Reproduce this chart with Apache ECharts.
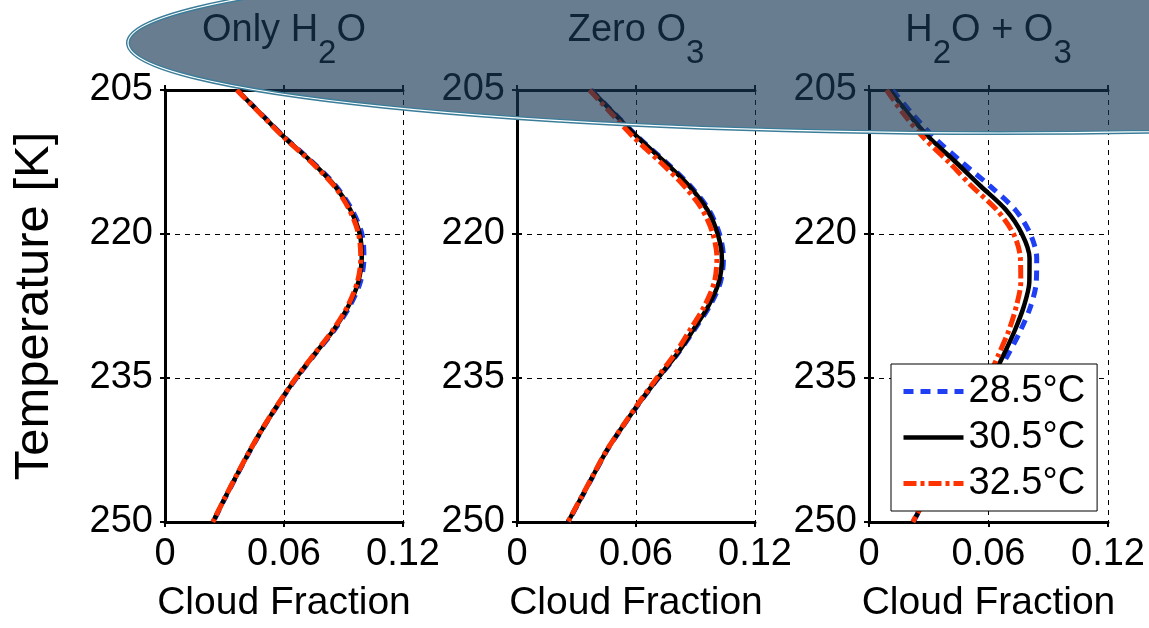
<!DOCTYPE html>
<html>
<head>
<meta charset="utf-8">
<script src="https://cdn.jsdelivr.net/npm/echarts@6/dist/echarts.min.js"></script>
<style>
  html, body { margin: 0; padding: 0; background: #ffffff; }
  #chart { width: 1149px; height: 628px; }
</style>
</head>
<body>
<div id="chart"></div>
<script>
// Temperature levels (K) at which cloud fraction is sampled
const temperatures = [205, 207.5, 210, 212.5, 215, 217.5, 220, 222.5, 225, 227.5,
                      230, 232.5, 235, 237.5, 240, 242.5, 245, 247.5, 250];

// Axis ticks
const xTicks = [0, 0.06, 0.12];
const yTicks = [205, 220, 235, 250];

// Sea-surface temperature runs
const runNames = ['28.5°C', '30.5°C', '32.5°C'];

// Panel 1: only H2O
const onlyH2O_285 = [0.0363, 0.0485, 0.0607, 0.0743, 0.0862, 0.0943, 0.0993, 0.1003, 0.0985, 0.0932,
                     0.0854, 0.0757, 0.0663, 0.0579, 0.0501, 0.0431, 0.0366, 0.0303, 0.0243];
const onlyH2O_305 = [0.0363, 0.0484, 0.0605, 0.0740, 0.0857, 0.0935, 0.0982, 0.0992, 0.0975, 0.0925,
                     0.0850, 0.0755, 0.0661, 0.0578, 0.0500, 0.0430, 0.0365, 0.0302, 0.0242];
const onlyH2O_325 = [0.0362, 0.0482, 0.0603, 0.0737, 0.0853, 0.0930, 0.0976, 0.0987, 0.0970, 0.0921,
                     0.0847, 0.0753, 0.0660, 0.0577, 0.0499, 0.0429, 0.0364, 0.0301, 0.0241];

// Panel 2: zero O3
const zeroO3_285 = [0.0374, 0.0494, 0.0615, 0.0750, 0.0874, 0.0968, 0.1021, 0.1041, 0.1026, 0.0972,
                    0.0893, 0.0809, 0.0713, 0.0621, 0.0535, 0.0455, 0.0389, 0.0324, 0.0258];
const zeroO3_305 = [0.0373, 0.0492, 0.0612, 0.0745, 0.0868, 0.0960, 0.1012, 0.1033, 0.1018, 0.0965,
                    0.0888, 0.0807, 0.0711, 0.0620, 0.0534, 0.0454, 0.0388, 0.0323, 0.0257];
const zeroO3_325 = [0.0365, 0.0478, 0.0592, 0.0722, 0.0843, 0.0935, 0.0988, 0.1008, 0.0995, 0.0945,
                    0.0872, 0.0796, 0.0705, 0.0617, 0.0533, 0.0453, 0.0387, 0.0322, 0.0256];

// Panel 3: H2O + O3
const bothGases_285 = [0.0118, 0.0218, 0.0330, 0.0465, 0.0607, 0.0735, 0.0810, 0.0842, 0.0840, 0.0812,
                       0.0762, 0.0700, 0.0632, 0.0560, 0.0491, 0.0419, 0.0352, 0.0287, 0.0222];
const bothGases_305 = [0.0105, 0.0198, 0.0305, 0.0435, 0.0560, 0.0688, 0.0768, 0.0806, 0.0805, 0.0778,
                       0.0733, 0.0678, 0.0618, 0.0552, 0.0487, 0.0417, 0.0351, 0.0286, 0.0221];
const bothGases_325 = [0.0088, 0.0174, 0.0276, 0.0400, 0.0515, 0.0642, 0.0726, 0.0760, 0.0762, 0.0740,
                       0.0703, 0.0652, 0.0598, 0.0540, 0.0480, 0.0413, 0.0349, 0.0285, 0.0220];

const panelTitles = ['{m|Only H}{s|2}{m|O}', '{m|Zero O}{s|3}', '{m|H}{s|2}{m|O + O}{s|3}'];
const panelData = [
  [onlyH2O_285, onlyH2O_305, onlyH2O_325],
  [zeroO3_285, zeroO3_305, zeroO3_325],
  [bothGases_285, bothGases_305, bothGases_325]
];

const FONT = '"Liberation Sans", Arial, Helvetica, sans-serif';
const panels = [
  { left: 165, width: 238 },
  { left: 517, width: 238 },
  { left: 869, width: 239 }
];
const GRID_TOP = 90, GRID_H = 432;

const runStyles = [
  { color: '#1f3ff5', width: 5, type: [10, 7] },
  { color: '#000000', width: 4.5, type: 'solid' },
  { color: '#ff3300', width: 5, type: [13, 4, 4, 4] }
];

const grids = [], xAxes = [], yAxes = [], series = [];
const xInt = xTicks[1] - xTicks[0];
const yInt = yTicks[1] - yTicks[0];

panels.forEach((p, i) => {
  grids.push({ left: p.left, top: GRID_TOP, width: p.width, height: GRID_H, containLabel: false });

  const xBase = {
    type: 'value', gridIndex: i,
    min: xTicks[0], max: xTicks[xTicks.length - 1], interval: xInt,
    axisLine: { show: true, lineStyle: { color: '#000', width: 3 } },
    axisTick: { show: true, inside: false, length: 5, lineStyle: { color: '#000', width: 2 } }
  };
  // bottom axis with labels and grid lines
  xAxes.push(Object.assign({}, xBase, {
    position: 'bottom',
    name: 'Cloud Fraction', nameLocation: 'middle', nameGap: 62,
    nameTextStyle: { fontFamily: FONT, fontSize: 39, color: '#000' },
    axisLabel: {
      fontFamily: FONT, fontSize: 38, color: '#000', margin: 14,
      formatter: v => (v === 0 ? '0' : v.toFixed(2))
    },
    splitLine: { show: true, lineStyle: { color: '#000', width: 1, type: [5, 5] } }
  }));
  // top edge of the frame
  xAxes.push(Object.assign({}, xBase, {
    position: 'top', axisLabel: { show: false }, splitLine: { show: false }
  }));

  const yBase = {
    type: 'value', gridIndex: i, inverse: true,
    min: yTicks[0], max: yTicks[yTicks.length - 1], interval: yInt,
    axisLine: { show: true, lineStyle: { color: '#000', width: 3 } },
    axisTick: { show: true, inside: false, length: 5, lineStyle: { color: '#000', width: 2 } }
  };
  yAxes.push(Object.assign({}, yBase, {
    position: 'left',
    name: i === 0 ? 'Temperature [K]' : '',
    nameLocation: 'middle', nameGap: 106, nameRotate: 90,
    nameTextStyle: { fontFamily: FONT, fontSize: 49, color: '#000' },
    axisLabel: { fontFamily: FONT, fontSize: 38, color: '#000', margin: 12 },
    splitLine: { show: true, lineStyle: { color: '#000', width: 1, type: [5, 5] } }
  }));
  // right edge of the frame
  yAxes.push(Object.assign({}, yBase, {
    position: 'right', axisLabel: { show: false }, splitLine: { show: false }
  }));

  panelData[i].forEach((vals, k) => {
    const st = runStyles[k];
    series.push({
      type: 'line', name: runNames[k],
      xAxisIndex: i * 2, yAxisIndex: i * 2,
      data: vals.map((v, j) => [v, temperatures[j]]),
      symbol: 'none', smooth: 0.3, z: 2 + k,
      color: st.color,
      lineStyle: { color: st.color, width: st.width, type: st.type, cap: 'butt' }
    });
  });
});

// Title band: an elliptical overlay with the panel titles beneath it
const graphics = panelTitles.map((t, i) => ({
  type: 'text', z: 40,
  x: panels[i].left + panels[i].width / 2, y: 12,
  style: {
    text: t, align: 'center', verticalAlign: 'top', fill: '#000',
    rich: {
      m: { fontFamily: FONT, fontSize: 38, lineHeight: 38, verticalAlign: 'top', fill: '#000' },
      s: { fontFamily: FONT, fontSize: 33, lineHeight: 58, verticalAlign: 'bottom', fill: '#000' }
    }
  }
}));
graphics.push({
  type: 'ellipse', z: 100,
  shape: { cx: 1000, cy: 43, rx: 872, ry: 90 },
  style: { fill: 'rgba(25,55,85,0.65)', stroke: '#3b7d99', lineWidth: 4 }
});
graphics.push({
  type: 'ellipse', z: 101,
  shape: { cx: 1000, cy: 43, rx: 872, ry: 90 },
  style: { fill: 'none', stroke: '#ffffff', lineWidth: 1.2 }
});

const chart = echarts.init(document.getElementById('chart'), null, { renderer: 'canvas' });
chart.setOption({
  backgroundColor: '#ffffff',
  animation: false,
  grid: grids,
  xAxis: xAxes,
  yAxis: yAxes,
  legend: {
    z: 20,
    data: runNames.map((name, k) => ({
      name: name,
      itemStyle: { opacity: 0 },
      lineStyle: { color: runStyles[k].color, width: runStyles[k].width, type: runStyles[k].type }
    })),
    orient: 'vertical',
    left: 891, top: 364,
    padding: [7, 12, 7, 10],
    itemWidth: 60, itemHeight: 14, itemGap: 5,
    backgroundColor: '#ffffff', borderColor: '#000', borderWidth: 1,
    textStyle: { fontFamily: FONT, fontSize: 38, color: '#000', lineHeight: 41 }
  },
  series: series,
  graphic: graphics
});
</script>
</body>
</html>
